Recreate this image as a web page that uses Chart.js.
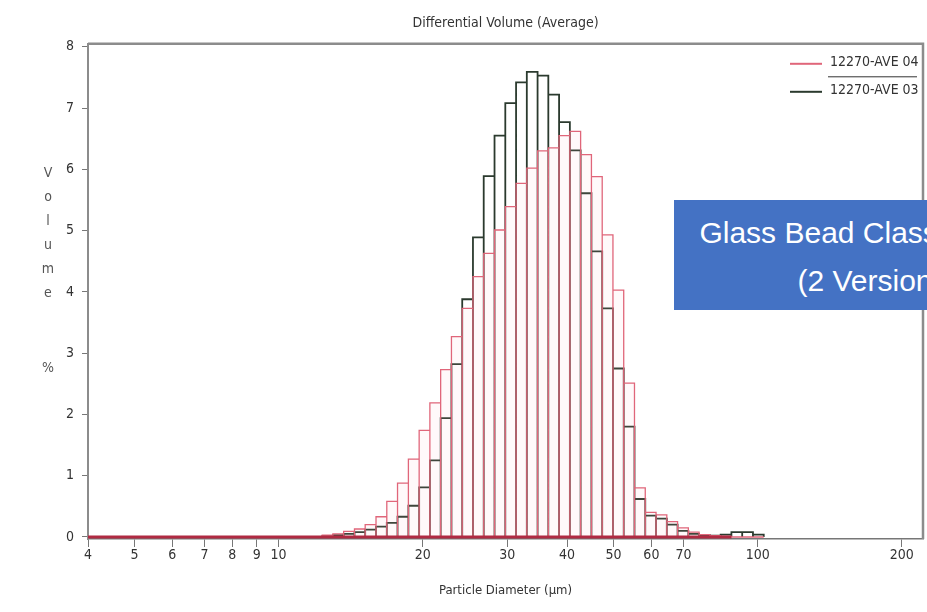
<!DOCTYPE html>
<html>
<head>
<meta charset="utf-8">
<title>Differential Volume (Average)</title>
<script src="https://cdn.jsdelivr.net/npm/chart.js@4.4.0/dist/chart.umd.min.js"></script>
<style>
  html, body { margin: 0; padding: 0; background: #fff; overflow: hidden; }
  #wrap { position: relative; width: 927px; height: 612px; }
  #note {
    position: absolute; left: 674px; top: 200px; width: 407px; height: 110px;
    background: #4472c4; color: #fff; text-align: center;
    font-family: 'Liberation Sans', Arial, sans-serif; font-size: 30px; line-height: 48px;
    box-sizing: border-box; overflow: hidden;
  }
  #note div:first-child { margin-top: 9px; padding-right: 16px; }
</style>
</head>
<body>
<div id="wrap">
  <canvas id="chart" width="927" height="612"></canvas>
  <div id="note"><div>Glass Bead Classification</div><div>(2 Versions)</div></div>
</div>
<script>
// ==========================
// Data
// ==========================
// bin edges, particle diameter in um
const binEdges = [12.33, 12.98, 13.67, 14.40, 15.16, 15.97, 16.82, 17.71, 18.66, 19.65,
  20.69, 21.79, 22.95, 24.17, 25.45, 26.80, 28.23, 29.73, 31.31, 32.97,
  34.72, 36.56, 38.50, 40.55, 42.70, 44.98, 47.37, 49.88, 52.53, 55.32,
  58.26, 61.36, 64.62, 68.05, 71.67, 75.47, 79.48, 83.71, 88.15, 92.84,
  97.77, 102.97];

// volume % per bin
const ave04 = [0.03, 0.05, 0.09, 0.13, 0.20, 0.33, 0.58, 0.88, 1.27, 1.74,
  2.19, 2.73, 3.27, 3.73, 4.25, 4.63, 5.01, 5.39, 5.77, 6.02,
  6.30, 6.35, 6.55, 6.62, 6.24, 5.88, 4.93, 4.03, 2.51, 0.80,
  0.40, 0.36, 0.25, 0.15, 0.08, 0.04, 0.02, 0.01, 0, 0, 0];

const ave03 = [0.01, 0.03, 0.05, 0.08, 0.12, 0.17, 0.23, 0.33, 0.51, 0.81,
  1.25, 1.94, 2.82, 3.88, 4.89, 5.89, 6.55, 7.08, 7.42, 7.59,
  7.53, 7.22, 6.77, 6.31, 5.61, 4.66, 3.73, 2.75, 1.80, 0.62,
  0.35, 0.30, 0.20, 0.10, 0.05, 0.03, 0.02, 0.04, 0.08, 0.08, 0.04];

const seriesNames = ["12270-AVE 04", "12270-AVE 03"];
const xTicks = [4, 5, 6, 7, 8, 9, 10, 20, 30, 40, 50, 60, 70, 100, 200];
const yTicks = [0, 1, 2, 3, 4, 5, 6, 7, 8];

const X_MIN = 4, X_MAX = 221.4;
const FONT = "'Liberation Sans Narrow', 'DejaVu Sans Condensed', 'Liberation Sans', sans-serif";

// ==========================
// Helpers
// ==========================
// histogram outline: each bin drawn as up / across / down
function outline(values) {
  const pts = [];
  values.forEach((v, i) => {
    pts.push({ x: binEdges[i], y: 0 });
    pts.push({ x: binEdges[i], y: v });
    pts.push({ x: binEdges[i + 1], y: v });
    pts.push({ x: binEdges[i + 1], y: 0 });
  });
  return pts;
}

let lastRed = 0;
ave04.forEach((v, i) => { if (v > 0) lastRed = i; });
const baseline = [{ x: X_MIN, y: 0 }, { x: binEdges[lastRed + 1], y: 0 }];

// frame, y title and legend
const extras = {
  id: "extras",
  afterDatasetsDraw(chart) {
    const { ctx, chartArea: a } = chart;
    ctx.save();
    // top and right frame
    ctx.strokeStyle = "#8c8c8c";
    ctx.lineWidth = 2.5;
    ctx.beginPath();
    ctx.moveTo(a.left, a.top);
    ctx.lineTo(a.right, a.top);
    ctx.lineTo(a.right, a.bottom);
    ctx.stroke();

    // legend
    const lx = a.right - 133;
    ctx.font = "14px " + FONT;
    ctx.textBaseline = "middle";
    ctx.textAlign = "left";
    const colors = ["#e0667a", "#2b3a2e"];
    [20, 48].forEach((dy, i) => {
      ctx.strokeStyle = colors[i];
      ctx.lineWidth = 2;
      ctx.beginPath();
      ctx.moveTo(lx, a.top + dy);
      ctx.lineTo(lx + 32, a.top + dy);
      ctx.stroke();
      ctx.fillStyle = "#333";
      ctx.fillText(seriesNames[i], lx + 40, a.top + dy - 1);
    });
    ctx.strokeStyle = "#333";
    ctx.lineWidth = 1;
    ctx.beginPath();
    ctx.moveTo(lx + 38, a.top + 33);
    ctx.lineTo(a.right - 6, a.top + 33);
    ctx.stroke();

    // y title, letters stacked
    ctx.fillStyle = "#555";
    ctx.font = "14px " + FONT;
    ctx.textAlign = "center";
    "Volume".split("").forEach((ch, i) => ctx.fillText(ch, 48, 173 + i * 24));
    ctx.fillText("%", 48, 368);
    ctx.restore();
  }
};

// ==========================
// Chart
// ==========================
new Chart(document.getElementById("chart"), {
  type: "line",
  data: {
    datasets: [
      {
        label: seriesNames[0],
        data: outline(ave04),
        borderColor: "#e0667a",
        borderWidth: 1.3,
        backgroundColor: "rgba(255, 190, 200, 0.09)",
        fill: "origin",
        pointRadius: 0,
        tension: 0
      },
      {
        label: seriesNames[1],
        data: outline(ave03),
        borderColor: "#2b3a2e",
        borderWidth: 1.8,
        fill: false,
        pointRadius: 0,
        tension: 0
      },
      {
        label: "zero",
        data: baseline,
        borderColor: "#b02a42",
        borderWidth: 3,
        pointRadius: 0,
        clip: false,
        order: -1
      }
    ]
  },
  options: {
    responsive: false,
    animation: false,
    layout: { padding: { left: 0, right: 4, top: 0, bottom: 0 } },
    plugins: {
      legend: { display: false },
      tooltip: { enabled: false },
      title: {
        display: true,
        fullSize: false,
        text: "Differential Volume (Average)",
        color: "#333",
        font: { family: FONT, size: 14, weight: "normal" },
        padding: { top: 15, bottom: 12 }
      }
    },
    scales: {
      x: {
        type: "logarithmic",
        min: X_MIN,
        max: X_MAX,
        afterBuildTicks: s => { s.ticks = xTicks.map(v => ({ value: v })); },
        afterFit: s => { s.height = 73; },
        ticks: {
          color: "#333",
          font: { family: FONT, size: 14 },
          padding: 0,
          maxRotation: 0,
          autoSkip: false,
          callback: v => String(v)
        },
        grid: { drawOnChartArea: false, drawTicks: true, tickLength: 8, color: "#777" },
        border: { display: true, color: "#777", width: 1.5 },
        title: {
          display: true,
          text: "Particle Diameter (\u00b5m)",
          color: "#333",
          font: { family: FONT, size: 13 },
          padding: { top: 2, bottom: 14 }
        }
      },
      y: {
        min: -0.033,
        max: 8.049,
        afterBuildTicks: s => { s.ticks = yTicks.map(v => ({ value: v })); },
        afterFit: s => { s.width = 88; },
        ticks: {
          color: "#333",
          font: { family: FONT, size: 14 },
          padding: 8
        },
        grid: { drawOnChartArea: false, drawTicks: true, tickLength: 6, color: "#777" },
        border: { display: true, color: "#8c8c8c", width: 2 }
      }
    }
  },
  plugins: [extras]
});
</script>
</body>
</html>
